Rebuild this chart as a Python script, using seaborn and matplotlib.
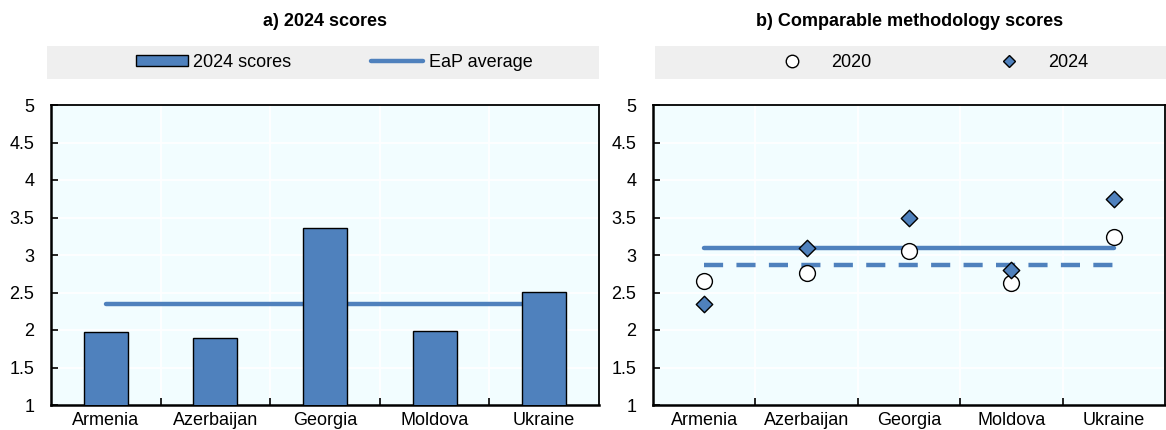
import matplotlib
matplotlib.use("Agg")
import matplotlib.pyplot as plt
from matplotlib.patches import Rectangle, Patch
from matplotlib.lines import Line2D
import seaborn as sns
import pandas as pd

# ---------------- data ----------------
countries = ["Armenia", "Azerbaijan", "Georgia", "Moldova", "Ukraine"]
scores_2024_a = [1.97, 1.90, 3.36, 1.99, 2.51]
eap_average_a = 2.35
scores_2020_b = [2.66, 2.76, 3.06, 2.63, 3.24]
scores_2024_b = [2.35, 3.10, 3.49, 2.80, 3.75]
avg_2020_b = 2.87
avg_2024_b = 3.10
yticks = [1, 1.5, 2, 2.5, 3, 3.5, 4, 4.5, 5]
ytick_labels = ["1", "1.5", "2", "2.5", "3", "3.5", "4", "4.5", "5"]

BLUE = "#4f81bd"
BG = "#f2fdff"
LEG_BG = "#efefef"

sns.set_theme(style="white")
plt.rcParams["font.family"] = ["Liberation Sans Narrow", "Liberation Sans", "DejaVu Sans"]
plt.rcParams["text.color"] = "black"

W, H = 1166, 430
fig = plt.figure(figsize=(W / 100, H / 100), dpi=100)


def fx(px):
    return px / W


def fy(py):
    return 1 - py / H


ax_a = fig.add_axes([fx(51), fy(405), fx(599 - 51), (405 - 105) / H])
ax_b = fig.add_axes([fx(653), fy(405), fx(1165 - 653), (405 - 105) / H])

df_a = pd.DataFrame({"country": countries, "score": scores_2024_a})
df_b = pd.DataFrame({
    "country": countries * 2,
    "score": scores_2020_b + scores_2024_b,
    "year": ["2020"] * 5 + ["2024"] * 5,
})

# ---------- panel a ----------
sns.lineplot(x=countries, y=[eap_average_a] * len(countries), ax=ax_a,
             color=BLUE, linewidth=3.2, zorder=2, sort=False)
sns.barplot(data=df_a, x="country", y="score", ax=ax_a, color=BLUE,
            edgecolor="black", linewidth=1, width=0.4, zorder=3, saturation=1)

# ---------- panel b ----------
sns.lineplot(x=countries, y=[avg_2024_b] * len(countries), ax=ax_b,
             color=BLUE, linewidth=3.2, zorder=2, sort=False)
sns.lineplot(x=countries, y=[avg_2020_b] * len(countries), ax=ax_b,
             color=BLUE, linewidth=3.2, zorder=2, sort=False, dashes=False,
             linestyle=(0, (4.3, 3.0)))
sns.scatterplot(data=df_b[df_b.year == "2020"], x="country", y="score", ax=ax_b,
                marker="o", s=130, color="white", edgecolor="black",
                linewidth=1, zorder=4)
sns.scatterplot(data=df_b[df_b.year == "2024"], x="country", y="score", ax=ax_b,
                marker="D", s=70, color=BLUE, edgecolor="black",
                linewidth=1, zorder=4)

for ax in (ax_a, ax_b):
    ax.set_facecolor(BG)
    ax.set_xlim(-0.5, len(countries) - 0.5)
    ax.set_ylim(1, 5)
    ax.set_yticks(yticks)
    ax.set_yticklabels(ytick_labels)
    ax.set_xticks(range(len(countries)))
    ax.set_xticklabels(countries)
    ax.set_xticks([i + 0.5 for i in range(len(countries) - 1)], minor=True)
    ax.set_xlabel("")
    ax.set_ylabel("")
    ax.tick_params(axis="x", which="major", length=0, pad=5, labelsize=13, colors="black")
    ax.tick_params(axis="x", which="minor", direction="in", length=5, width=1.2,
                   color="black", bottom=True)
    ax.tick_params(axis="y", direction="in", length=5, width=1.2, pad=12,
                   labelsize=13, colors="black", left=True)
    ax.grid(False)
    for y in yticks[1:-1]:
        ax.axhline(y, color="white", linewidth=1.3, zorder=0.5)
    for x in [i + 0.5 for i in range(len(countries) - 1)]:
        ax.axvline(x, color="white", linewidth=1.3, zorder=0.5)
    for s in ax.spines.values():
        s.set_visible(True)
        s.set_color("black")
        s.set_linewidth(1.3)
    ax.spines["left"].set_linewidth(1.8)
    ax.spines["bottom"].set_linewidth(1.8)
    if ax.get_legend() is not None:
        ax.get_legend().remove()

# titles
fig.text(fx(325), fy(22), "a) 2024 scores", ha="center", va="center",
         fontsize=13, fontweight="bold", color="black")
fig.text(fx(910), fy(22), "b) Comparable methodology scores", ha="center", va="center",
         fontsize=13, fontweight="bold", color="black")

# legend backgrounds
fig.patches.append(Rectangle((fx(47), fy(79)), fx(599 - 47), (79 - 46) / H,
                             transform=fig.transFigure, facecolor=LEG_BG,
                             edgecolor="none", zorder=0))
fig.patches.append(Rectangle((fx(655), fy(79)), fx(1166 - 655), (79 - 46) / H,
                             transform=fig.transFigure, facecolor=LEG_BG,
                             edgecolor="none", zorder=0))

handles_a = [Patch(facecolor=BLUE, edgecolor="black", linewidth=1),
             Line2D([0], [0], color=BLUE, linewidth=3.2)]
fig.legend(handles_a, ["2024 scores", "EaP average"], loc="center",
           bbox_to_anchor=(fx(334), fy(62.5)), ncol=2, frameon=False,
           fontsize=13, handlelength=2.9, handleheight=0.55, handletextpad=0.3,
           columnspacing=4.4, labelcolor="black")

handles_b = [Line2D([0], [0], marker="o", linestyle="none", markersize=9,
                    markerfacecolor="white", markeredgecolor="black", markeredgewidth=1),
             Line2D([0], [0], marker="D", linestyle="none", markersize=6.5,
                    markerfacecolor=BLUE, markeredgecolor="black", markeredgewidth=1)]
fig.legend(handles_b, ["2020", "2024"], loc="center",
           bbox_to_anchor=(fx(931), fy(62.5)), ncol=2, frameon=False,
           fontsize=13, handlelength=2, handletextpad=1.2, columnspacing=6.6,
           labelcolor="black")

fig.savefig("out.png", dpi=100)
